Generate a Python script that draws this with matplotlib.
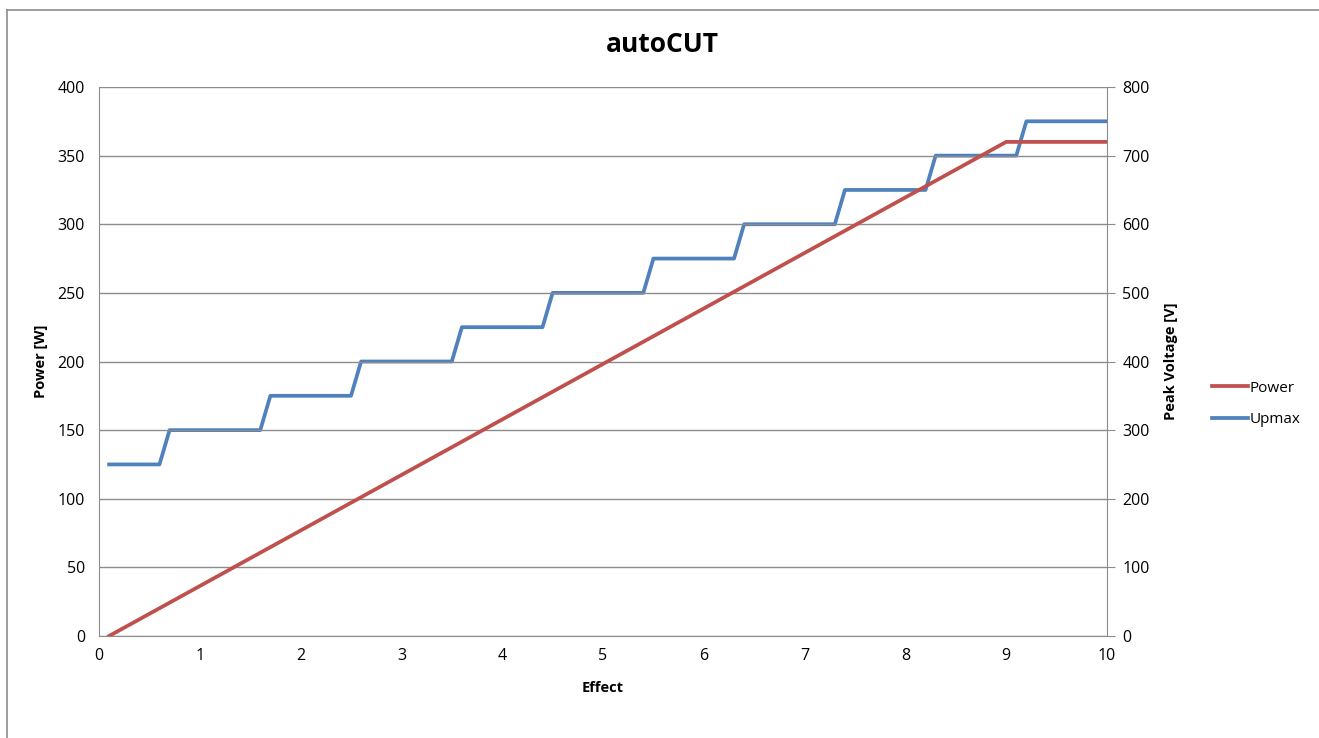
import matplotlib.pyplot as plt
from matplotlib.lines import Line2D

plt.rcParams['font.family'] = ['Open Sans', 'DejaVu Sans']

# Power [W] vs effect (straight ramp, then capped)
power_x = [0.1, 9.0, 10.0]
power_w = [0, 360, 360]

# Upmax [V] steps vs effect
upmax_x = [0.1, 0.6, 0.7, 1.6, 1.7, 2.5, 2.6, 3.5, 3.6, 4.4, 4.5, 5.4, 5.5,
           6.3, 6.4, 7.3, 7.4, 8.2, 8.3, 9.1, 9.2, 10.0]
upmax_v = [250, 250, 300, 300, 350, 350, 400, 400, 450, 450, 500, 500, 550,
           550, 600, 600, 650, 650, 700, 700, 750, 750]

x_ticks = list(range(0, 11))
left_ticks = list(range(0, 401, 50))
right_ticks = list(range(0, 801, 100))

red = '#C0504D'
blue = '#4F81BD'
grid_c = '#8C8C8C'

fig = plt.figure(figsize=(13.19, 7.38), dpi=100)
# chart-area border: only left and top edges fall inside the picture
fx, fy = 6.5 / 1319, 1 - 10 / 738
fig.lines.append(Line2D([fx, fx], [0, fy], transform=fig.transFigure, color=grid_c, linewidth=1.2))
fig.lines.append(Line2D([fx, 1], [fy, fy], transform=fig.transFigure, color=grid_c, linewidth=1.2))

ax = fig.add_axes([99 / 1319, 1 - 636 / 738, (1107 - 99) / 1319, (636 - 87) / 738])
ax2 = ax.twinx()

ax.set_xlim(0, 10)
ax.set_ylim(0, 400)
ax2.set_ylim(0, 800)
ax.set_xticks(x_ticks)
ax.set_yticks(left_ticks)
ax2.set_yticks(right_ticks)

ax.grid(axis='y', color=grid_c, linewidth=1.0)
ax.set_axisbelow(True)
for a in (ax, ax2):
    for s in a.spines.values():
        s.set_color(grid_c)
    a.spines['top'].set_visible(False)
ax.spines['right'].set_visible(False)
ax2.spines['left'].set_visible(False)
ax2.spines['bottom'].set_visible(False)

ax.tick_params(axis='both', length=0, labelsize=11.5)
ax.tick_params(axis='y', pad=10)
ax.tick_params(axis='x', pad=9)
ax2.tick_params(axis='y', length=6, color=grid_c, labelsize=11.5, pad=5)

ax2.plot(upmax_x, upmax_v, color=blue, linewidth=2.7, solid_joinstyle='round')
l2, = ax.plot([], [], color=blue, linewidth=2.7)
l1, = ax.plot(power_x, power_w, color=red, linewidth=2.7, solid_joinstyle='round')
ax.set_zorder(ax2.get_zorder() + 1)
ax.patch.set_visible(False)

fig.text(0.502, 1 - 45 / 738, 'autoCUT', fontsize=19, fontweight='bold',
         ha='center', va='center')
ax.set_xlabel('Effect', fontsize=10.5, fontweight='bold', labelpad=12)
ax.set_ylabel('Power [W]', fontsize=10.5, fontweight='bold', labelpad=7)
ax2.set_ylabel('Peak Voltage [V]', fontsize=10.5, fontweight='bold', labelpad=10)

fig.legend([l1, l2], ['Power', 'Upmax'], loc='center left',
           bbox_to_anchor=(1198 / 1319, 1 - 404 / 738), frameon=False,
           fontsize=11, handlelength=2.4, handletextpad=0.1, labelspacing=1.1)

fig.savefig('out.png', dpi=100)
